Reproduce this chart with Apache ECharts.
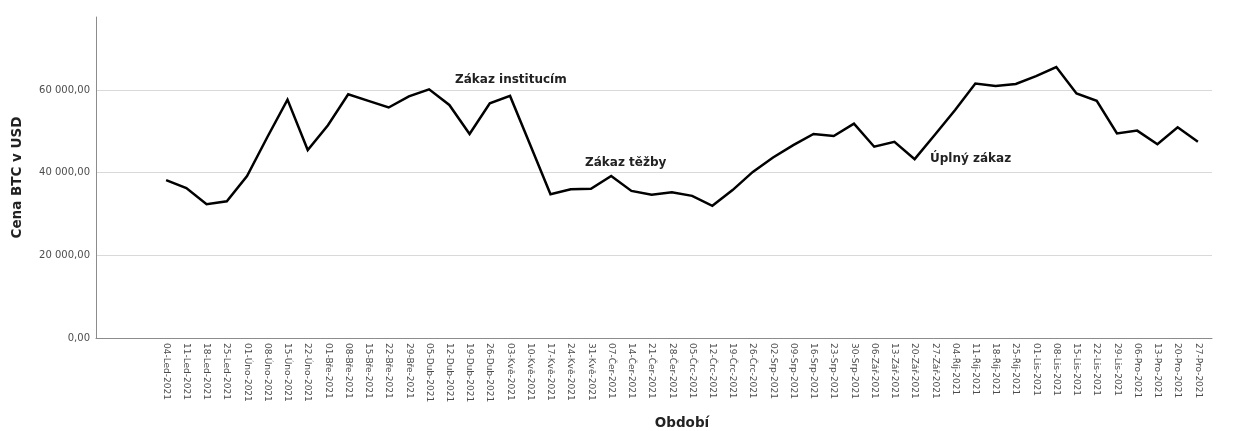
<!DOCTYPE html>
<html>
<head>
<meta charset="utf-8">
<script src="https://cdn.jsdelivr.net/npm/echarts@6/dist/echarts.min.js"></script>
<style>
html,body{margin:0;padding:0;background:#fff;}
#chart{width:1259px;height:431px;}
</style>
</head>
<body>
<div id="chart"></div>
<script>
const categories = [
  '04-Led-2021','11-Led-2021','18-Led-2021','25-Led-2021',
  '01-Úno-2021','08-Úno-2021','15-Úno-2021','22-Úno-2021',
  '01-Bře-2021','08-Bře-2021','15-Bře-2021','22-Bře-2021','29-Bře-2021',
  '05-Dub-2021','12-Dub-2021','19-Dub-2021','26-Dub-2021',
  '03-Kvě-2021','10-Kvě-2021','17-Kvě-2021','24-Kvě-2021','31-Kvě-2021',
  '07-Čer-2021','14-Čer-2021','21-Čer-2021','28-Čer-2021',
  '05-Črc-2021','12-Črc-2021','19-Črc-2021','26-Črc-2021',
  '02-Srp-2021','09-Srp-2021','16-Srp-2021','23-Srp-2021','30-Srp-2021',
  '06-Zář-2021','13-Zář-2021','20-Zář-2021','27-Zář-2021',
  '04-Říj-2021','11-Říj-2021','18-Říj-2021','25-Říj-2021',
  '01-Lis-2021','08-Lis-2021','15-Lis-2021','22-Lis-2021','29-Lis-2021',
  '06-Pro-2021','13-Pro-2021','20-Pro-2021','27-Pro-2021'
];
const prices = [
  38200, 36300, 32400, 33100, 39200, 48600, 57700, 45500, 51500, 59000, 57400, 55800, 58500,
  60200, 56400, 49400, 56800, 58600, 46700, 34800, 36000, 36100, 39200, 35600, 34700, 35300,
  34400, 32000, 35800, 40200, 43700, 46700, 49400, 48900, 51900, 46300, 47500, 43300, 49200,
  55200, 61600, 61000, 61500, 63400, 65600, 59200, 57400, 49500, 50200, 46900, 51000, 47500
];
const yTicks = [0, 20000, 40000, 60000];
const annotations = [
  {text: 'Zákaz institucím', x: 455, y: 82},
  {text: 'Zákaz těžby', x: 585, y: 165},
  {text: 'Úplný zákaz', x: 930, y: 161}
];

function fmt(v) {
  const s = Math.round(v).toString().replace(/\B(?=(\d{3})+(?!\d))/g, ' ');
  return s + ',00';
}

const chart = echarts.init(document.getElementById('chart'));
const yMax = 77700;
chart.setOption({
  animation: false,
  backgroundColor: '#fff',
  grid: [
    {left: 96, right: 47, top: 17, bottom: 93, containLabel: false, outerBoundsMode: 'none'},
    {left: 156, right: 51, top: 17, bottom: 93, containLabel: false, outerBoundsMode: 'none'}
  ],
  xAxis: [
    {
      type: 'value', gridIndex: 0, min: 0, max: 1,
      axisLine: {show: true, lineStyle: {color: '#8c8c8c', width: 1}},
      axisTick: {show: false}, axisLabel: {show: false}, splitLine: {show: false}
    },
    {
      type: 'category', gridIndex: 1, data: categories, boundaryGap: true,
      axisLine: {show: false}, axisTick: {show: false},
      axisLabel: {
        rotate: -90, interval: 0, margin: 5, fontSize: 9,
        fontFamily: 'DejaVu Sans', color: '#4d4d4d'
      },
      name: 'Období', nameLocation: 'middle', nameGap: 78,
      nameTextStyle: {fontFamily: 'DejaVu Sans', fontWeight: 'bold', fontSize: 13.5, color: '#222'}
    }
  ],
  yAxis: [
    {
      type: 'value', gridIndex: 0, min: 0, max: yMax, interval: 20000,
      axisLine: {show: true, lineStyle: {color: '#8c8c8c', width: 1}},
      axisTick: {show: false},
      axisLabel: {
        showMaxLabel: false, margin: 6, fontSize: 10, fontFamily: 'DejaVu Sans', color: '#4d4d4d',
        formatter: function (v) { return yTicks.indexOf(v) >= 0 ? fmt(v) : ''; }
      },
      splitLine: {show: true, showMaxLine: false, lineStyle: {color: '#d9d9d9', width: 1}},
      name: 'Cena BTC v USD', nameLocation: 'middle', nameGap: 72, nameRotate: 90,
      nameTextStyle: {fontFamily: 'DejaVu Sans', fontWeight: 'bold', fontSize: 13.5, color: '#222'}
    },
    {
      type: 'value', gridIndex: 1, min: 0, max: yMax, show: false, splitLine: {show: false}
    }
  ],
  series: [{
    type: 'line', xAxisIndex: 1, yAxisIndex: 1, data: prices,
    symbol: 'none', smooth: false,
    lineStyle: {color: '#000', width: 2.5, join: 'miter'}
  }],
  graphic: annotations.map(a => ({
    type: 'text', left: a.x, top: a.y - 8,
    style: {text: a.text, fill: '#222', font: 'bold 12px "DejaVu Sans"'}
  }))
});
</script>
</body>
</html>
